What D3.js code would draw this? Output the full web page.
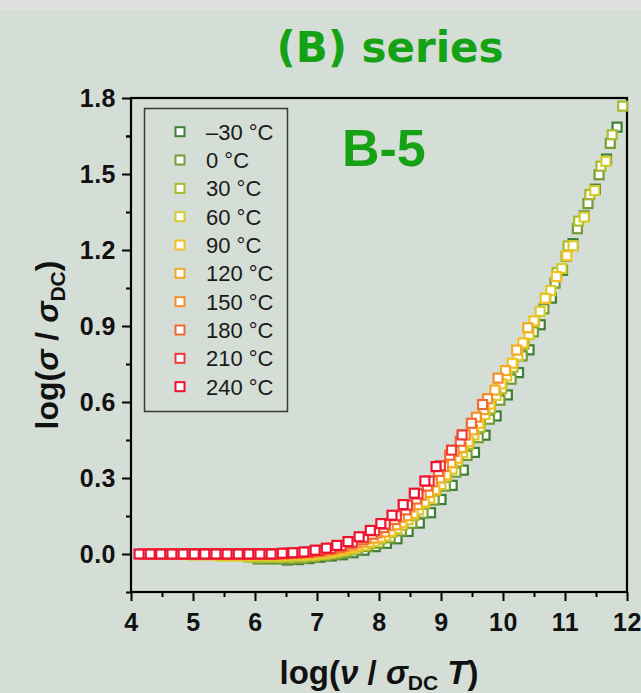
<!DOCTYPE html>
<html>
<head>
<meta charset="utf-8">
<script src="https://cdn.jsdelivr.net/npm/d3@7"></script>
<style>
  html, body { margin: 0; padding: 0; background: #d4ddd6; }
  svg { display: block; }
</style>
</head>
<body>
<svg id="chart"></svg>
<script>
var width = 641;
var height = 693;
var margin = { top: 98, right: 12, bottom: 101, left: 131 };

// legend labels and marker colours, coldest first
var tempLabels = ["\u201330 \u00b0C", "0 \u00b0C", "30 \u00b0C", "60 \u00b0C", "90 \u00b0C",
                  "120 \u00b0C", "150 \u00b0C", "180 \u00b0C", "210 \u00b0C", "240 \u00b0C"];
var tempColors = ["#3f7f35", "#739c34", "#a9bb2c", "#d6cb2a", "#f1c21f",
                  "#f3aa22", "#f48d2a", "#f06a35", "#ef3b36", "#ee1230"];

var xTicks = [4, 5, 6, 7, 8, 9, 10, 11, 12];
var yTicks = [0.0, 0.3, 0.6, 0.9, 1.2, 1.5, 1.8];

// log(nu / sigmaDC T) and log(sigma / sigmaDC), one pair of arrays per temperature
var x_m30 = [6.52,6.70,6.87,7.05,7.23,7.41,7.58,7.76,7.94,8.12,8.29,8.47,8.65,8.83,9.00,9.18,9.36,9.54,9.71,9.89,10.07,10.25,10.42,10.60,10.78,10.96,11.13,11.31,11.49,11.67,11.84];
var y_m30 = [-0.024,-0.022,-0.018,-0.013,-0.008,-0.003,0.005,0.015,0.029,0.042,0.060,0.089,0.122,0.163,0.215,0.271,0.331,0.401,0.469,0.545,0.628,0.716,0.806,0.905,1.010,1.120,1.225,1.334,1.440,1.559,1.685];

var x_0 = [6.05,6.23,6.40,6.58,6.76,6.94,7.11,7.29,7.47,7.65,7.82,8.00,8.18,8.36,8.53,8.71,8.89,9.07,9.24,9.42,9.60,9.78,9.95,10.13,10.31,10.49,10.66,10.84,11.02,11.20,11.37,11.55,11.73];
var y_0 = [-0.020,-0.020,-0.020,-0.020,-0.017,-0.012,-0.007,-0.002,0.006,0.017,0.030,0.043,0.064,0.091,0.121,0.161,0.213,0.268,0.323,0.389,0.459,0.532,0.607,0.690,0.782,0.877,0.968,1.069,1.175,1.284,1.383,1.497,1.621];

var x_30 = [5.90,6.08,6.25,6.43,6.61,6.79,6.96,7.14,7.32,7.50,7.67,7.85,8.03,8.21,8.38,8.56,8.74,8.92,9.09,9.27,9.45,9.63,9.80,9.98,10.16,10.34,10.51,10.69,10.87,11.05,11.22,11.40,11.58,11.76,11.93];
var y_30 = [-0.012,-0.012,-0.012,-0.012,-0.012,-0.012,-0.008,-0.003,0.005,0.016,0.028,0.041,0.059,0.086,0.114,0.151,0.200,0.252,0.304,0.365,0.433,0.500,0.573,0.652,0.737,0.828,0.916,1.009,1.111,1.216,1.314,1.419,1.531,1.655,1.768];

var x_60 = [5.45,5.63,5.80,5.98,6.16,6.34,6.51,6.69,6.87,7.05,7.22,7.40,7.58,7.76,7.93,8.11,8.29,8.47,8.64,8.82,9.00,9.18,9.35,9.53,9.71,9.89,10.06,10.24,10.42,10.60,10.77,10.95,11.13,11.31,11.48,11.66];
var y_60 = [-0.008,-0.008,-0.008,-0.008,-0.008,-0.008,-0.008,-0.006,-0.004,-0.001,0.004,0.012,0.021,0.034,0.050,0.071,0.100,0.135,0.174,0.220,0.274,0.335,0.400,0.470,0.550,0.626,0.703,0.783,0.866,0.958,1.040,1.127,1.217,1.330,1.435,1.550];

var x_90 = [5.00,5.18,5.35,5.53,5.71,5.89,6.06,6.24,6.42,6.60,6.77,6.95,7.13,7.31,7.48,7.66,7.84,8.02,8.19,8.37,8.55,8.73,8.90,9.08,9.26,9.44,9.61,9.79,9.97,10.15,10.32,10.50,10.68,10.86,11.03];
var y_90 = [-0.004,-0.004,-0.004,-0.004,-0.004,-0.004,-0.004,-0.004,-0.004,-0.002,0.000,0.003,0.007,0.013,0.021,0.032,0.047,0.066,0.090,0.124,0.160,0.205,0.254,0.312,0.378,0.443,0.516,0.592,0.672,0.753,0.833,0.920,1.009,1.095,1.177];

var x_120 = [4.72,4.90,5.07,5.25,5.43,5.61,5.78,5.96,6.14,6.32,6.49,6.67,6.85,7.03,7.20,7.38,7.56,7.74,7.91,8.09,8.27,8.45,8.62,8.80,8.98,9.16,9.33,9.51,9.69,9.87,10.04,10.22,10.40];
var y_120 = [0,0,0,0,0,0,0,0,0,0,0,0.002,0.005,0.007,0.013,0.021,0.031,0.046,0.063,0.087,0.115,0.151,0.195,0.243,0.300,0.360,0.420,0.490,0.570,0.647,0.724,0.805,0.893];

var x_150 = [4.60,4.78,4.95,5.13,5.31,5.49,5.66,5.84,6.02,6.20,6.37,6.55,6.73,6.91,7.08,7.26,7.44,7.62,7.79,7.97,8.15,8.33,8.50,8.68,8.86,9.04,9.21,9.39,9.57,9.75,9.92];
var y_150 = [0,0,0,0,0,0,0,0,0,0,0,0.002,0.004,0.007,0.012,0.019,0.030,0.043,0.060,0.083,0.112,0.145,0.186,0.232,0.285,0.345,0.405,0.470,0.540,0.613,0.694];

var x_180 = [4.35,4.53,4.70,4.88,5.06,5.24,5.41,5.59,5.77,5.94,6.12,6.30,6.47,6.65,6.83,7.01,7.18,7.36,7.54,7.72,7.89,8.07,8.25,8.43,8.60,8.78,8.96,9.14,9.31,9.49,9.67];
var y_180 = [0,0,0,0,0,0,0,0,0,0,0,0,0.001,0.004,0.006,0.011,0.018,0.027,0.040,0.056,0.078,0.104,0.136,0.174,0.217,0.268,0.326,0.390,0.445,0.516,0.590];

var x_210 = [4.20,4.38,4.55,4.73,4.91,5.09,5.26,5.44,5.62,5.80,5.97,6.15,6.33,6.51,6.68,6.86,7.04,7.22,7.39,7.57,7.75,7.93,8.10,8.28,8.46,8.63,8.81,8.99,9.17,9.34];
var y_210 = [0,0,0,0,0,0,0,0,0,0,0,0,0,0.003,0.005,0.008,0.014,0.022,0.033,0.047,0.066,0.092,0.118,0.151,0.193,0.237,0.288,0.348,0.410,0.470];

var x_240 = [4.13,4.31,4.48,4.66,4.84,5.02,5.19,5.37,5.55,5.73,5.90,6.08,6.26,6.44,6.61,6.79,6.97,7.15,7.32,7.50,7.68,7.86,8.03,8.21,8.39,8.57,8.74,8.92];
var y_240 = [0,0,0,0,0,0,0,0,0,0,0,0,0,0.003,0.005,0.008,0.015,0.023,0.034,0.049,0.068,0.093,0.120,0.153,0.195,0.240,0.288,0.345];

var seriesX = [x_m30, x_0, x_30, x_60, x_90, x_120, x_150, x_180, x_210, x_240];
var seriesY = [y_m30, y_0, y_30, y_60, y_90, y_120, y_150, y_180, y_210, y_240];

var font = "'Liberation Sans', Arial, sans-serif";
var green = "#15a215";

var xScale = d3.scaleLinear().domain([4, 12]).range([margin.left, width - margin.right - 2]);
var yScale = d3.scaleLinear().domain([-0.15, 1.8]).range([height - margin.bottom, margin.top]);

var svg = d3.select("#chart")
            .attr("width", width)
            .attr("height", height);

svg.append("rect")
    .attr("width", width).attr("height", height)
    .attr("fill", "#d4ddd6");

// light strip along the top edge
svg.append("rect")
    .attr("width", width).attr("height", 10)
    .attr("fill", "#dedfde");

svg.append("text")
    .attr("x", 390).attr("y", 62)
    .attr("text-anchor", "middle")
    .style("font-family", "'DejaVu Sans', sans-serif")
    .style("font-weight", "bold")
    .style("font-size", "42px")
    .attr("fill", green)
    .text("(B) series");

var x0 = xScale(4), x1 = xScale(12), y0 = yScale(-0.15), y1 = yScale(1.8);

// minor ticks
var xMinor = xTicks.slice(0, -1).map(function(d) { return d + 0.5; });
var yMinor = yTicks.map(function(d) { return d - 0.15; }).concat([1.65]);

svg.append("g")
    .attr("transform", "translate(0," + y0 + ")")
    .call(d3.axisBottom(xScale).tickValues(xMinor).tickSize(5).tickFormat(""))
    .call(function(g) { g.select(".domain").remove(); })
    .selectAll("line").attr("stroke", "#000").attr("stroke-width", 2);

svg.append("g")
    .attr("transform", "translate(" + x0 + ",0)")
    .call(d3.axisLeft(yScale).tickValues(yMinor).tickSize(5).tickFormat(""))
    .call(function(g) { g.select(".domain").remove(); })
    .selectAll("line").attr("stroke", "#000").attr("stroke-width", 2);

var xAxis = svg.append("g")
    .attr("transform", "translate(0," + y0 + ")")
    .call(d3.axisBottom(xScale).tickValues(xTicks).tickSize(9).tickSizeOuter(0).tickPadding(12).tickFormat(d3.format("d")));

var yAxis = svg.append("g")
    .attr("transform", "translate(" + x0 + ",0)")
    .call(d3.axisLeft(yScale).tickValues(yTicks).tickSize(9).tickSizeOuter(0).tickPadding(6).tickFormat(d3.format(".1f")));

[xAxis, yAxis].forEach(function(g) {
  g.select(".domain").remove();
  g.selectAll("line").attr("stroke", "#000").attr("stroke-width", 2);
  g.selectAll("text")
    .attr("fill", "#111")
    .style("font-family", font)
    .style("font-weight", "bold")
    .style("font-size", "25px")
    .style("letter-spacing", "0.5px");
});

// frame
svg.append("rect")
    .attr("x", x0).attr("y", y1)
    .attr("width", x1 - x0).attr("height", y0 - y1)
    .attr("fill", "none")
    .attr("stroke", "#000")
    .attr("stroke-width", 2.2);

// data, coldest drawn first so the hot series sit on top
seriesX.forEach(function(xs, k) {
  var pts = xs.map(function(x, i) { return [x, seriesY[k][i]]; });
  svg.append("g")
    .selectAll("rect")
    .data(pts)
    .enter().append("rect")
      .attr("x", function(d) { return xScale(d[0]) - 4.5; })
      .attr("y", function(d) { return yScale(d[1]) - 4.5; })
      .attr("width", 9)
      .attr("height", 9)
      .attr("fill", "#fff")
      .attr("stroke", tempColors[k])
      .attr("stroke-width", 2.2);
});

// legend
var legend = svg.append("g");
legend.append("rect")
    .attr("x", 144.5).attr("y", 108.5)
    .attr("width", 143).attr("height", 303)
    .attr("fill", "none")
    .attr("stroke", "#3a3a3a")
    .attr("stroke-width", 1.5);

var rows = legend.selectAll("g.row")
    .data(tempLabels)
    .enter().append("g")
      .attr("class", "row")
      .attr("transform", function(d, i) { return "translate(0," + (131.7 + i * 28.33) + ")"; });

rows.append("rect")
    .attr("x", 175.5).attr("y", -4.5)
    .attr("width", 9).attr("height", 9)
    .attr("fill", "#fff")
    .attr("stroke", function(d, i) { return tempColors[i]; })
    .attr("stroke-width", 2);

rows.append("text")
    .attr("x", 206).attr("y", 8)
    .attr("fill", "#1a1a1a")
    .style("font-family", font)
    .style("font-size", "22px")
    .text(function(d) { return d; });

svg.append("text")
    .attr("x", 342).attr("y", 166)
    .attr("fill", green)
    .style("font-family", font)
    .style("font-weight", "bold")
    .style("font-size", "52px")
    .text("B-5");

// axis titles
var yTitle = svg.append("text")
    .attr("transform", "translate(58," + ((y0 + y1) / 2) + ") rotate(-90)")
    .attr("text-anchor", "middle")
    .attr("fill", "#111")
    .style("font-family", font)
    .style("font-weight", "bold")
    .style("font-size", "32px");
yTitle.append("tspan").text("log(");
yTitle.append("tspan").style("font-style", "italic").text("\u03c3");
yTitle.append("tspan").text(" / ");
yTitle.append("tspan").style("font-style", "italic").text("\u03c3");
yTitle.append("tspan").attr("dy", 7).style("font-size", "21px").text("DC");
yTitle.append("tspan").attr("dy", -7).text(")");

var xTitle = svg.append("text")
    .attr("x", (x0 + x1) / 2).attr("y", 684)
    .attr("text-anchor", "middle")
    .attr("fill", "#111")
    .style("font-family", font)
    .style("font-weight", "bold")
    .style("font-size", "33px");
xTitle.append("tspan").text("log(");
xTitle.append("tspan").style("font-style", "italic").text("\u03bd");
xTitle.append("tspan").text(" / ");
xTitle.append("tspan").style("font-style", "italic").text("\u03c3");
xTitle.append("tspan").attr("dy", 6).style("font-size", "21px").text("DC");
xTitle.append("tspan").attr("dy", -6).text(" ");
xTitle.append("tspan").style("font-style", "italic").text("T");
xTitle.append("tspan").text(")");
</script>
</body>
</html>
